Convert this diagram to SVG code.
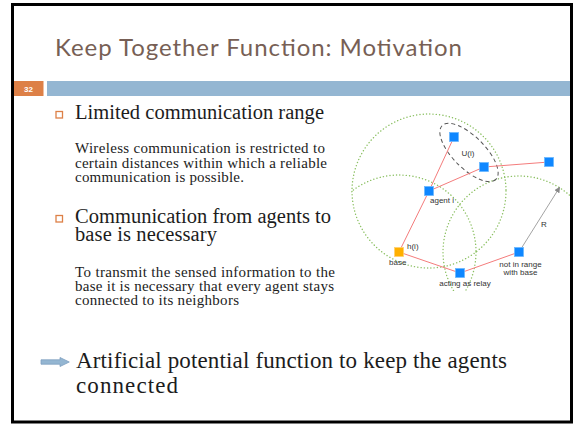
<svg xmlns="http://www.w3.org/2000/svg" width="574" height="424" viewBox="0 0 574 424">
<defs>
<style>
.title{font-family:Lato,"Liberation Sans",sans-serif;font-size:24px;fill:#775f55}
.b1{font-family:"Liberation Serif",serif;font-size:20.5px;fill:#1c1c1c}
.b2{font-family:"Liberation Serif",serif;font-size:15px;fill:#1c1c1c}
.b3{font-family:"Liberation Serif",serif;font-size:23px;fill:#1c1c1c}
.lbl{font-family:"Liberation Sans",Arial,sans-serif;font-size:8px;fill:#333}
.bul{fill:none;stroke:#dd8047;stroke-width:1.3}
.range{fill:none;stroke:#8cc063;stroke-width:1.4;stroke-dasharray:0.1 3.2;stroke-linecap:round}
.link{stroke:#f47c7c;stroke-width:1;fill:none}
.agent{fill:#0f87ff;stroke:#6cb8ff;stroke-width:0.8}
.baseN{fill:#ffb000;stroke:#ffd070;stroke-width:0.8}
</style>
<clipPath id="clip"><rect x="351" y="113" width="219" height="178"/></clipPath>
<marker id="ah" markerWidth="6" markerHeight="6" refX="5" refY="3" orient="auto" markerUnits="userSpaceOnUse">
<path d="M0,0 L6,3 L0,6 z" fill="#888"/>
</marker>
</defs>
<rect x="0" y="0" width="574" height="424" fill="#fff"/>
<rect x="12.5" y="4.5" width="559" height="417.5" fill="none" stroke="#000" stroke-width="3"/>

<g id="header">
<text class="title" x="55" y="56" textLength="407">Keep Together Function: Motivation</text>
<rect x="14" y="81" width="29.5" height="15" fill="#dd8047"/>
<text x="28.5" y="91.5" text-anchor="middle" font-family="Liberation Sans,sans-serif" font-size="8" font-weight="bold" fill="#fff">32</text>
<rect x="47" y="81" width="523" height="15" fill="#94b6d2"/>
</g>

<g id="bullets">
<rect class="bul" x="56" y="111.5" width="6.5" height="6.5"/>
<text class="b1" x="75" y="119" textLength="249">Limited communication range</text>
<text class="b2" x="75" y="153" textLength="250">Wireless communication is restricted to</text>
<text class="b2" x="75" y="167.5" textLength="252">certain distances within which a reliable</text>
<text class="b2" x="75" y="182" textLength="169">communication is possible.</text>
<rect class="bul" x="56" y="215.5" width="6.5" height="6.5"/>
<text class="b1" x="75" y="223" textLength="256">Communication from agents to</text>
<text class="b1" x="75" y="241" textLength="142">base is necessary</text>
<text class="b2" x="75" y="277" textLength="260">To transmit the sensed information to the</text>
<text class="b2" x="75" y="291" textLength="259">base it is necessary that every agent stays</text>
<text class="b2" x="75" y="304.5" textLength="164">connected to its neighbors</text>
</g>

<g id="conclusion">
<path d="M41,359.8 H60 V357.5 L69.3,362 L60,366.5 V364.2 H41 z" fill="#94b6d2" stroke="#7f9fc0" stroke-width="0.8"/>
<text class="b3" x="76" y="368" textLength="431">Artificial potential function to keep the agents</text>
<text class="b3" x="76" y="393" textLength="102">connected</text>
</g>

<g id="diagram" clip-path="url(#clip)">
<g id="ranges">
<circle class="range" cx="429" cy="191" r="77"/>
<circle class="range" cx="399" cy="252" r="77"/>
<circle class="range" cx="519" cy="252" r="76"/>
</g>
<ellipse cx="469" cy="152.5" rx="38" ry="16" transform="rotate(45 469 152.5)" fill="none" stroke="#555" stroke-width="1" stroke-dasharray="4 3"/>
<g id="connectors">
<line class="link" x1="399" y1="252" x2="429" y2="191"/>
<line class="link" x1="429" y1="191" x2="454" y2="137"/>
<line class="link" x1="429" y1="191" x2="484" y2="167"/>
<line class="link" x1="484" y1="167" x2="549" y2="162"/>
<line class="link" x1="399" y1="252" x2="460" y2="273"/>
<line class="link" x1="460" y1="273" x2="519" y2="252"/>
<line x1="519" y1="252" x2="559.5" y2="187.5" stroke="#999" stroke-width="0.9" marker-end="url(#ah)"/>
</g>
<g id="node-top"><rect class="agent" x="449.5" y="132.5" width="9" height="9"/></g>
<g id="node-mid"><rect class="agent" x="479.5" y="162.5" width="9" height="9"/></g>
<g id="node-far"><rect class="agent" x="544.5" y="157.5" width="9" height="9"/></g>
<g id="node-agent-i"><rect class="agent" x="424.5" y="186.5" width="9" height="9"/><text class="lbl" x="430" y="203">agent i</text></g>
<g id="node-base"><rect class="baseN" x="394.5" y="247.5" width="9" height="9"/><text class="lbl" x="389" y="265">base</text><text class="lbl" x="407" y="249">h(i)</text></g>
<g id="node-relay"><rect class="agent" x="455.5" y="268.5" width="9" height="9"/><text class="lbl" x="465" y="285.5" text-anchor="middle">acting as relay</text></g>
<g id="node-notinrange"><rect class="agent" x="514.5" y="247.5" width="9" height="9"/><text class="lbl" x="520.5" y="266.5" text-anchor="middle">not in range</text><text class="lbl" x="520.5" y="274.5" text-anchor="middle">with base</text></g>
<text class="lbl" x="468" y="156" text-anchor="middle">U(i)</text>
<text class="lbl" x="541" y="227">R</text>
</g>
</svg>
